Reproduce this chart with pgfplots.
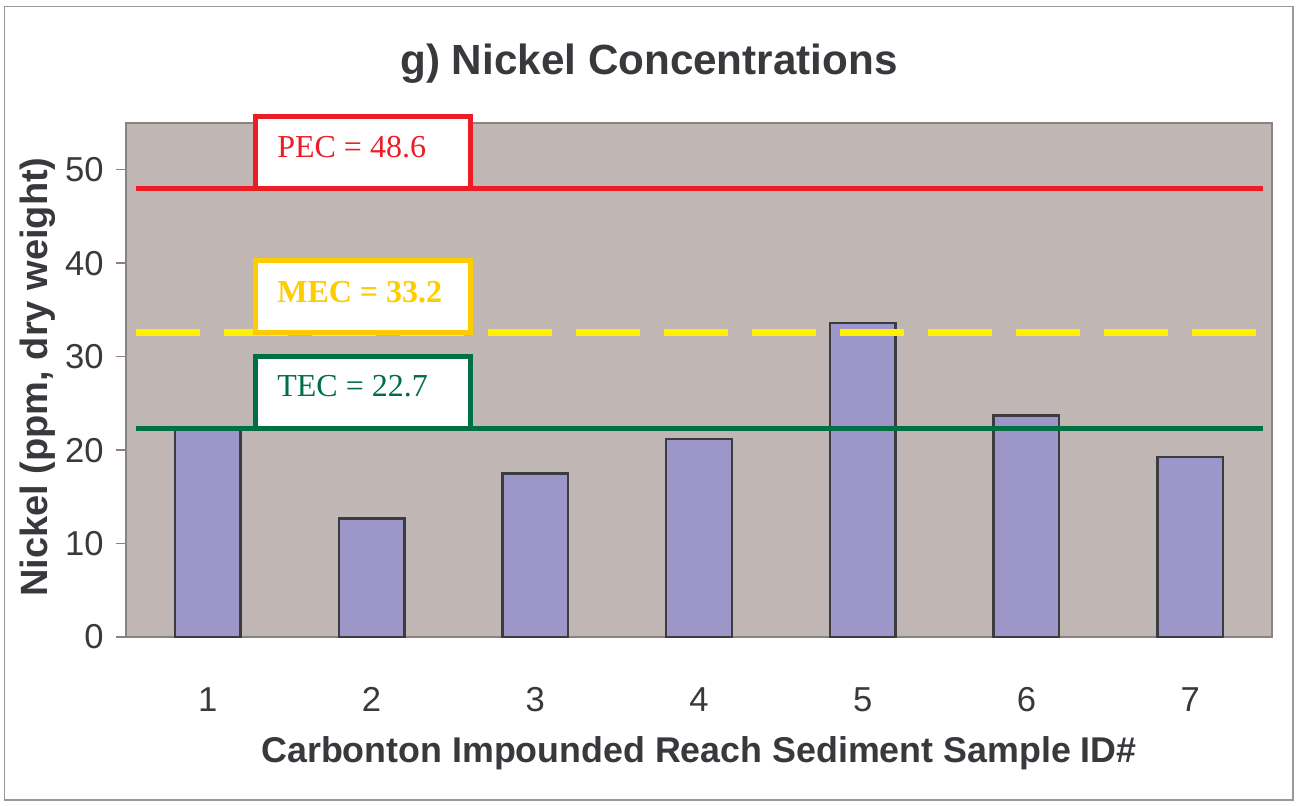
\documentclass[border=0pt]{standalone}
\usepackage{fontspec}
\setmainfont{Liberation Sans}
\newfontfamily\serifbox{Liberation Serif}
\usepackage{pgfplots}
\pgfplotsset{compat=1.18}
\definecolor{plotbg}{HTML}{C0B7B4}
\definecolor{barfill}{HTML}{9C97C8}
\definecolor{baredge}{HTML}{3C3B40}
\definecolor{txt}{HTML}{38383D}
\definecolor{pecred}{HTML}{EE1C25}
\definecolor{mecline}{HTML}{FFF200}
\definecolor{mecbox}{HTML}{FFCC00}
\definecolor{tecgreen}{HTML}{006F44}
\definecolor{axgray}{HTML}{8A8280}
\begin{document}
\begin{tikzpicture}
\useasboundingbox (-63pt,-84pt) rectangle (585pt,318.5pt);
\draw[color=gray!80, line width=0.8pt] (-60.75pt,-81.5pt) rectangle (583.5pt,315.25pt);
\begin{axis}[
  at={(0pt,0pt)}, anchor=origin,
  scale only axis, width=573pt, height=257pt,
  xmin=0.5, xmax=7.5, ymin=0, ymax=55,
  axis background/.style={fill=plotbg},
  axis line style={axgray, line width=0.8pt},
  clip=false,
  xtick={1,2,3,4,5,6,7},
  xtick style={draw=none},
  minor xtick={0.5,1.5,...,7.5},
  minor tick length=5pt,
  minor x tick style={axgray, line width=0.7pt},
  ytick={0,10,20,30,40,50},
  major tick length=5pt,
  y tick style={axgray, line width=0.7pt},
  tick align=outside,
  xtick pos=left, ytick pos=left,
  /pgf/number format/assume math mode=true,
  tick label style={font=\fontsize{17.3}{20}\selectfont, text=txt},
  xticklabel style={anchor=base, inner sep=0pt, yshift=-32.3pt},
  yticklabel style={anchor=east, inner sep=0pt, xshift=-6pt},
]
\addplot[ybar, bar width=0.4, fill=barfill, draw=baredge, line width=1.2pt]
  coordinates {(1,22.4) (2,12.7) (3,17.5) (4,21.2) (5,33.6) (6,23.7) (7,19.25)};
\addplot[pecred, line width=2.4pt, line cap=butt] coordinates {(0.561,48.0) (7.446,48.0)};
\addplot[mecline, line width=3.4pt, line cap=butt, dash pattern=on 32pt off 12pt] coordinates {(0.561,32.55) (7.446,32.55)};
\addplot[tecgreen, line width=2.2pt, line cap=butt] coordinates {(0.561,22.3) (7.446,22.3)};
\draw[pecred, line width=2.5pt, fill=white] (axis cs:1.288,48.0) rectangle (axis cs:2.607,55.67);
\draw[mecbox, line width=2.5pt, fill=white] (axis cs:1.288,32.55) rectangle (axis cs:2.607,40.26);
\draw[tecgreen, line width=2.5pt, fill=white] (axis cs:1.288,22.3) rectangle (axis cs:2.607,29.98);
\node[anchor=west, inner sep=0pt, text=pecred, font=\serifbox\fontsize{16}{19}\selectfont] at (axis cs:1.422,52.46) {PEC = 48.6};
\node[anchor=west, inner sep=0pt, text=mecbox, font=\serifbox\bfseries\fontsize{16}{19}\selectfont] at (axis cs:1.422,36.86) {MEC = 33.2};
\node[anchor=west, inner sep=0pt, text=tecgreen, font=\serifbox\fontsize{16}{19}\selectfont] at (axis cs:1.422,26.8) {TEC = 22.7};
\end{axis}
\node[anchor=base, text=txt, font=\bfseries\fontsize{21.1}{25}\selectfont] at (261.5pt,281.5pt) {g) Nickel Concentrations};
\node[anchor=base, text=txt, font=\bfseries\fontsize{17.9}{22}\selectfont] at (286.5pt,-62.5pt) {Carbonton Impounded Reach Sediment Sample ID\#};
\node[anchor=base, rotate=90, text=txt, font=\bfseries\fontsize{19}{22}\selectfont] at (-39pt,130pt) {Nickel (ppm, dry weight)};
\end{tikzpicture}
\end{document}
